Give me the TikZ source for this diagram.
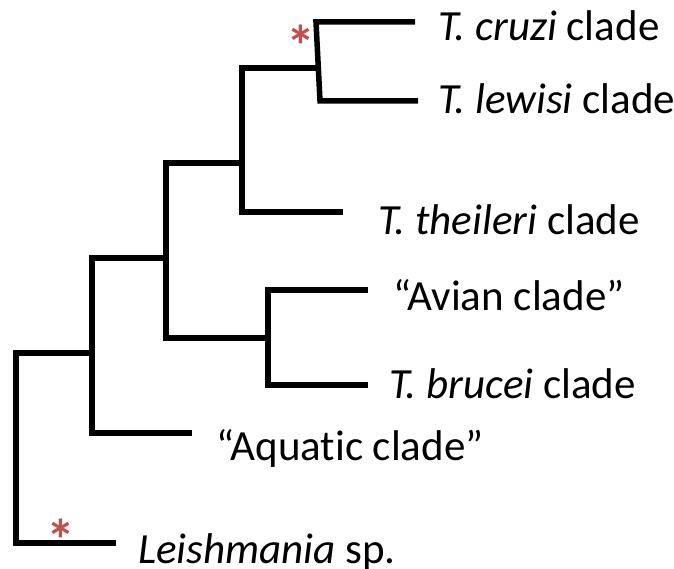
\documentclass[tikz,border=0pt]{standalone}
\usepackage{fontspec}
\setmainfont[Ligatures=NoCommon]{Carlito}
\definecolor{starred}{HTML}{C0504D}
\begin{document}
\begin{tikzpicture}[x=1pt,y=-1pt,
  branch/.style={line width=5.5pt, line join=miter},
  taxon/.style={anchor=base west, inner sep=0pt, font=\fontsize{43}{50}\selectfont},
  star/.style={anchor=base, text=starred, inner sep=0pt, font=\fontsize{58}{60}\selectfont\bfseries}]
\useasboundingbox (0,0) rectangle (674,569);

% internal nodes (where the stem meets each vertical bar)
\coordinate (root) at (16,448);
\coordinate (n1) at (92,353);
\coordinate (n2) at (166,258);
\coordinate (n3) at (242,163);
\coordinate (n4) at (318,68);
\coordinate (n5) at (268,338);
\coordinate (n4top) at (316,22);
\coordinate (n4bot) at (320,101);

% branch tips
\coordinate (cruziTip) at (415,22);
\coordinate (lewisiTip) at (418,101);
\coordinate (theileriTip) at (343,212);
\coordinate (avianTip) at (368,290);
\coordinate (bruceiTip) at (368,385);
\coordinate (aquaticTip) at (192,433);
\coordinate (leishTip) at (116,543);

% taxon labels
\node[taxon] (cruzi) at (438,41) {\textit{T. cruzi} clade};
\node[taxon] (lewisi) at (438,114) {\textit{T. lewisi} clade};
\node[taxon] (theileri) at (378,235) {\textit{T. theileri} clade};
\node[taxon] (avian) at (393,310) {“Avian clade”};
\node[taxon] (brucei) at (389,398) {\textit{T. brucei} clade};
\node[taxon] (aquatic) at (216,460) {“Aquatic clade”};
\node[taxon] (leish) at (138,563) {\textit{Leishmania} sp.};

% tree
\draw[branch] (n1) -- (n1 -| root) -- (leishTip -| root) -- (leishTip);
\draw[branch] (n2) -- (n2 -| n1) -- (aquaticTip -| n1) -- (aquaticTip);
\draw[branch] (n3) -- (n3 -| n2) -- (n5 -| n2) -- (n5);
\draw[branch] (n4) -- (n4 -| n3) -- (theileriTip -| n3) -- (theileriTip);
\draw[branch] (cruziTip) -- (n4top) -- (n4bot) -- (lewisiTip);
\draw[branch] (avianTip) -- (avianTip -| n5) -- (bruceiTip -| n5) -- (bruceiTip);

% support marks
\node[star] (star1) at (301,67) {*};
\node[star] (star2) at (61,560) {*};
\end{tikzpicture}
\end{document}
